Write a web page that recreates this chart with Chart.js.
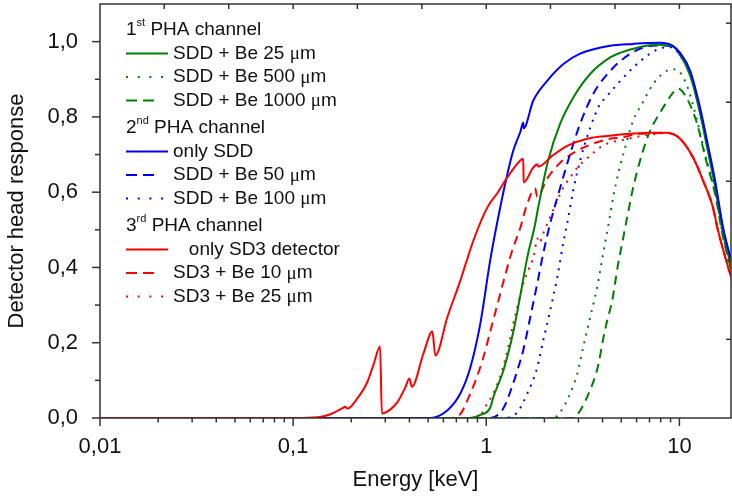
<!DOCTYPE html>
<html>
<head>
<meta charset="utf-8">
<script src="https://cdn.jsdelivr.net/npm/chart.js@4.4.1/dist/chart.umd.min.js"></script>
<style>
  html, body { margin: 0; padding: 0; background: #fff; }
  #wrap { width: 732px; height: 497px; }
</style>
</head>
<body>
<div id="wrap"><canvas id="chart" width="732" height="497"></canvas></div>
<script>
// energy in keV, detector head response (0..1)

// 3rd PHA channel
const sd3Energy = [0.01, 0.1, 0.134, 0.156, 0.18, 0.186, 0.191, 0.215, 0.242, 0.26, 0.282, 0.288, 0.319, 0.347, 0.38, 0.4, 0.412, 0.472, 0.526, 0.545, 0.628, 0.734, 0.857, 1.012, 1.15, 1.284, 1.5, 1.554, 1.562, 1.75, 1.836, 1.86, 2.2, 2.624, 3.33, 4.38, 5.56, 7.05, 8.64, 10.08, 11.77, 13.26, 14.93, 15.85, 18.74];
const sd3Resp   = [0, 0, 0.002, 0.01, 0.026, 0.03, 0.025, 0.052, 0.095, 0.14, 0.19, 0.012, 0.023, 0.042, 0.08, 0.105, 0.083, 0.17, 0.23, 0.166, 0.267, 0.365, 0.471, 0.559, 0.6, 0.639, 0.684, 0.689, 0.626, 0.665, 0.674, 0.668, 0.697, 0.723, 0.742, 0.75, 0.755, 0.758, 0.758, 0.742, 0.692, 0.631, 0.559, 0.498, 0.365];

const sd3Be10Energy = [0.01, 0.628, 0.708, 0.827, 0.965, 1.049, 1.14, 1.254, 1.363, 1.5, 1.63, 1.793, 1.836, 2.068, 2.414, 2.957, 3.578, 4.38, 4.93, 6.26, 8.64, 10.08, 11.77, 13.26, 14.93, 15.85, 18.74];
const sd3Be10Resp   = [0, 0, 0.003, 0.065, 0.16, 0.23, 0.3, 0.38, 0.445, 0.505, 0.569, 0.61, 0.588, 0.636, 0.678, 0.71, 0.729, 0.742, 0.745, 0.755, 0.757, 0.742, 0.692, 0.631, 0.559, 0.498, 0.365];

const sd3Be25Energy = [0.01, 0.898, 1.012, 1.087, 1.21, 1.299, 1.379, 1.464, 1.554, 1.65, 1.76, 1.84, 1.88, 1.97, 2.33, 2.5, 2.72, 2.957, 3.45, 3.89, 4.38, 4.93, 6.49, 8.64, 10.08, 11.77, 13.26, 14.93, 15.85, 18.74];
const sd3Be25Resp   = [0, 0, 0.038, 0.065, 0.127, 0.188, 0.25, 0.304, 0.357, 0.392, 0.43, 0.477, 0.465, 0.49, 0.577, 0.612, 0.639, 0.665, 0.697, 0.719, 0.732, 0.737, 0.75, 0.757, 0.742, 0.692, 0.631, 0.559, 0.498, 0.365];

// 2nd PHA channel
const sddEnergy = [0.01, 0.513, 0.628, 0.734, 0.827, 0.931, 1.049, 1.13, 1.269, 1.379, 1.5, 1.554, 1.562, 1.75, 2.068, 2.5, 3.063, 4.38, 5.76, 7.94, 9.17, 10.08, 11.36, 12.79, 13.9, 15.3, 16.83, 18.74];
const sddResp   = [0, 0, 0.02, 0.065, 0.134, 0.25, 0.42, 0.51, 0.635, 0.71, 0.76, 0.785, 0.77, 0.843, 0.896, 0.94, 0.968, 0.989, 0.994, 0.997, 0.99, 0.97, 0.923, 0.825, 0.737, 0.631, 0.506, 0.41];

const sddBe50Energy = [0.01, 1.049, 1.224, 1.379, 1.446, 1.554, 1.689, 1.836, 1.972, 2.143, 2.414, 2.72, 3.063, 3.578, 4.38, 5.36, 6.49, 8.24, 9.17, 10.08, 11.36, 12.79, 13.9, 15.3, 16.83, 18.74];
const sddBe50Resp   = [0, 0, 0.025, 0.092, 0.125, 0.18, 0.267, 0.357, 0.437, 0.517, 0.612, 0.702, 0.782, 0.861, 0.922, 0.962, 0.984, 0.99, 0.986, 0.965, 0.915, 0.815, 0.728, 0.622, 0.5, 0.405];

const sddBe100Energy = [0.01, 1.224, 1.446, 1.63, 1.836, 1.972, 2.143, 2.33, 2.5, 2.624, 2.818, 3.063, 3.45, 3.89, 4.13, 4.93, 5.76, 7.05, 8.24, 9.17, 10.08, 11.36, 12.79, 13.9, 15.3, 16.83, 18.74];
const sddBe100Resp   = [0, 0, 0.015, 0.065, 0.134, 0.206, 0.286, 0.373, 0.463, 0.517, 0.604, 0.684, 0.771, 0.835, 0.85, 0.895, 0.931, 0.968, 0.984, 0.985, 0.963, 0.913, 0.813, 0.725, 0.62, 0.498, 0.403];

// 1st PHA channel
const sddBe25Energy = [0.01, 0.827, 0.931, 1.049, 1.087, 1.224, 1.379, 1.5, 1.63, 1.79, 1.858, 2.093, 2.414, 2.818, 3.45, 4.38, 4.93, 6.26, 7.67, 9.17, 10.08, 11.36, 12.79, 13.9, 15.3, 16.83, 18.74];
const sddBe25Resp   = [0, 0, 0.008, 0.028, 0.055, 0.125, 0.228, 0.325, 0.426, 0.515, 0.56, 0.685, 0.782, 0.851, 0.914, 0.958, 0.97, 0.986, 0.992, 0.988, 0.965, 0.91, 0.81, 0.72, 0.615, 0.49, 0.395];

const sddBe500Energy = [0.01, 2.222, 2.414, 2.72, 2.957, 3.176, 3.45, 3.75, 4.03, 4.28, 4.54, 4.82, 5.24, 5.76, 6.41, 7.22, 8.14, 9.17, 10.08, 11.09, 12.35, 13.58, 15.3, 16.83, 18.74];
const sddBe500Resp   = [0, 0, 0.015, 0.065, 0.117, 0.188, 0.267, 0.347, 0.437, 0.51, 0.586, 0.649, 0.719, 0.79, 0.835, 0.883, 0.914, 0.927, 0.918, 0.875, 0.79, 0.7, 0.6, 0.485, 0.39];

const sddBe1000Energy = [0.01, 2.818, 2.957, 3.45, 3.8, 4.03, 4.23, 4.49, 4.65, 4.82, 5.05, 5.3, 5.76, 6.41, 7.05, 7.94, 9.17, 9.84, 10.96, 12.35, 13.58, 15.3, 16.83, 18.74];
const sddBe1000Resp   = [0, 0, 0.008, 0.074, 0.14, 0.21, 0.259, 0.312, 0.36, 0.41, 0.463, 0.519, 0.612, 0.702, 0.763, 0.811, 0.861, 0.875, 0.848, 0.782, 0.695, 0.595, 0.48, 0.385];

// axes
const xMin = 0.01, xMax = 18.5;
const xLabelTicks = [0.01, 0.1, 1, 10];
const yLabelTicks = [0, 0.2, 0.4, 0.6, 0.8, 1.0];
const yMinorTicks = [0.1, 0.3, 0.5, 0.7, 0.9];
const topTickEnergies = [0.0215, 0.0464, 0.1, 0.215, 0.464, 1, 2.15, 4.64, 10];
const rightTickValues = [0.209, 0.419, 0.629, 0.839, 1.049];

const RED = '#ff0000', GREEN = '#008000', BLUE = '#0000ff';
const FONT = "'Liberation Sans', Arial, sans-serif";
const AXIS = '#333333';
const DASHED = [9, 6], DOTTED = [2, 6];

const legendRows = [
  { head: ['1', 'st', ' PHA channel'] },
  { text: 'SDD + Be 25 μm', color: GREEN, style: 'solid' },
  { text: 'SDD + Be 500 μm', color: GREEN, style: 'dot' },
  { text: 'SDD + Be 1000 μm', color: GREEN, style: 'dash' },
  { head: ['2', 'nd', ' PHA channel'] },
  { text: 'only SDD', color: BLUE, style: 'solid' },
  { text: 'SDD + Be 50 μm', color: BLUE, style: 'dash' },
  { text: 'SDD + Be 100 μm', color: BLUE, style: 'dot' },
  { head: ['3', 'rd', ' PHA channel'] },
  { text: '   only SD3 detector', color: RED, style: 'solid' },
  { text: 'SD3 + Be 10 μm', color: RED, style: 'dash' },
  { text: 'SD3 + Be 25 μm', color: RED, style: 'dot' }
];

function series(label, energies, values, color, dash) {
  return {
    label: label,
    data: energies.map((e, i) => ({ x: e, y: values[i] })),
    borderColor: color,
    borderWidth: 2,
    borderDash: dash,
    pointRadius: 0,
    cubicInterpolationMode: 'monotone',
    fill: false
  };
}

function drawRich(ctx, str, x, y, size) {
  const parts = str.split('μ');
  let xx = x;
  parts.forEach((p, i) => {
    ctx.font = size + 'px ' + FONT;
    ctx.fillText(p, xx, y);
    xx += ctx.measureText(p).width;
    if (i < parts.length - 1) {
      ctx.font = size + "px 'Liberation Serif', serif";
      ctx.fillText('μ', xx, y + 1);
      xx += ctx.measureText('μ').width;
    }
  });
}

const framePlugin = {
  id: 'frame',
  afterDraw(chart) {
    const ctx = chart.ctx;
    const a = chart.chartArea;
    const x = chart.scales.x, y = chart.scales.y;
    ctx.save();
    ctx.strokeStyle = AXIS;
    ctx.lineWidth = 1.5;
    ctx.setLineDash([]);
    ctx.strokeRect(a.left, a.top, a.right - a.left, a.bottom - a.top);

    function seg(x1, y1, x2, y2) {
      ctx.beginPath(); ctx.moveTo(x1, y1); ctx.lineTo(x2, y2); ctx.stroke();
    }
    // bottom ticks, outward
    for (let d = -2; d <= 1; d++) {
      for (let m = 1; m <= 9; m++) {
        const v = m * Math.pow(10, d);
        if (v > xMax) continue;
        const px = x.getPixelForValue(v);
        seg(px, a.bottom, px, a.bottom + (m === 1 ? 8 : 4.5));
      }
    }
    // left ticks, outward
    yLabelTicks.forEach(v => { const py = y.getPixelForValue(v); seg(a.left - 8, py, a.left, py); });
    yMinorTicks.forEach(v => { const py = y.getPixelForValue(v); seg(a.left - 5, py, a.left, py); });
    // top ticks, inward
    topTickEnergies.forEach(v => { const px = x.getPixelForValue(v); seg(px, a.top, px, a.top + 5); });
    // right ticks, inward
    rightTickValues.forEach(v => { const py = y.getPixelForValue(v); seg(a.right - 5, py, a.right, py); });

    // legend
    ctx.textBaseline = 'middle';
    ctx.textAlign = 'left';
    ctx.fillStyle = '#111';
    let yy = 30;
    legendRows.forEach((r, i) => {
      if (i > 0) yy += r.head ? 27.5 : 23.5;
      if (r.head) {
        let xx = 126;
        ctx.font = '19px ' + FONT;
        ctx.fillText(r.head[0], xx, yy);
        xx += ctx.measureText(r.head[0]).width;
        ctx.font = '11px ' + FONT;
        ctx.fillText(r.head[1], xx, yy - 7);
        xx += ctx.measureText(r.head[1]).width;
        ctx.font = '19px ' + FONT;
        ctx.fillText(r.head[2], xx, yy);
      } else {
        ctx.strokeStyle = r.color;
        ctx.lineWidth = 2;
        let x2 = 168;
        if (r.style === 'dash') { ctx.setLineDash([11, 6]); x2 = 154; }
        else if (r.style === 'dot') { ctx.setLineDash([2, 9.7]); x2 = 164; }
        else ctx.setLineDash([]);
        seg(126, yy, x2, yy);
        ctx.setLineDash([]);
        drawRich(ctx, r.text, 173, yy, 19);
      }
    });
    ctx.restore();
  }
};

new Chart(document.getElementById('chart'), {
  type: 'line',
  data: {
    datasets: [
      series('only SD3 detector', sd3Energy, sd3Resp, RED, []),
      series('only SDD', sddEnergy, sddResp, BLUE, []),
      series('SDD + Be 25 μm', sddBe25Energy, sddBe25Resp, GREEN, []),
      series('SDD + Be 500 μm', sddBe500Energy, sddBe500Resp, GREEN, DOTTED),
      series('SDD + Be 1000 μm', sddBe1000Energy, sddBe1000Resp, GREEN, DASHED),
      series('SDD + Be 50 μm', sddBe50Energy, sddBe50Resp, BLUE, DASHED),
      series('SDD + Be 100 μm', sddBe100Energy, sddBe100Resp, BLUE, DOTTED),
      series('SD3 + Be 10 μm', sd3Be10Energy, sd3Be10Resp, RED, DASHED),
      series('SD3 + Be 25 μm', sd3Be25Energy, sd3Be25Resp, RED, DOTTED)
    ]
  },
  options: {
    responsive: false,
    animation: false,
    devicePixelRatio: 1,
    layout: { autoPadding: false, padding: { top: 4, right: 1, left: 0, bottom: 0 } },
    plugins: {
      legend: { display: false },
      tooltip: { enabled: false }
    },
    scales: {
      x: {
        type: 'logarithmic',
        min: xMin,
        max: xMax,
        grid: { display: false },
        border: { display: false },
        afterBuildTicks: s => { s.ticks = xLabelTicks.map(v => ({ value: v })); },
        afterFit: s => { s.height = 79; s.paddingLeft = 0; s.paddingRight = 0; },
        ticks: {
          autoSkip: false,
          maxRotation: 0,
          padding: 8,
          color: '#111',
          font: { family: FONT, size: 22 },
          callback: v => String(v).replace('.', ',')
        },
        title: {
          display: true,
          text: 'Energy [keV]',
          color: '#111',
          font: { family: FONT, size: 22 },
          padding: { top: 0, bottom: 4 }
        }
      },
      y: {
        min: 0,
        max: 1.1,
        grid: { display: false },
        border: { display: false },
        afterBuildTicks: s => { s.ticks = yLabelTicks.map(v => ({ value: v })); },
        afterFit: s => { s.width = 100; s.paddingTop = 0; s.paddingBottom = 0; },
        ticks: {
          padding: 14,
          color: '#111',
          font: { family: FONT, size: 22 },
          callback: v => v.toFixed(1).replace('.', ',')
        },
        title: {
          display: true,
          text: 'Detector head response',
          color: '#111',
          font: { family: FONT, size: 22 },
          padding: { top: 4, bottom: 0 }
        }
      }
    }
  },
  plugins: [framePlugin]
});
</script>
</body>
</html>
